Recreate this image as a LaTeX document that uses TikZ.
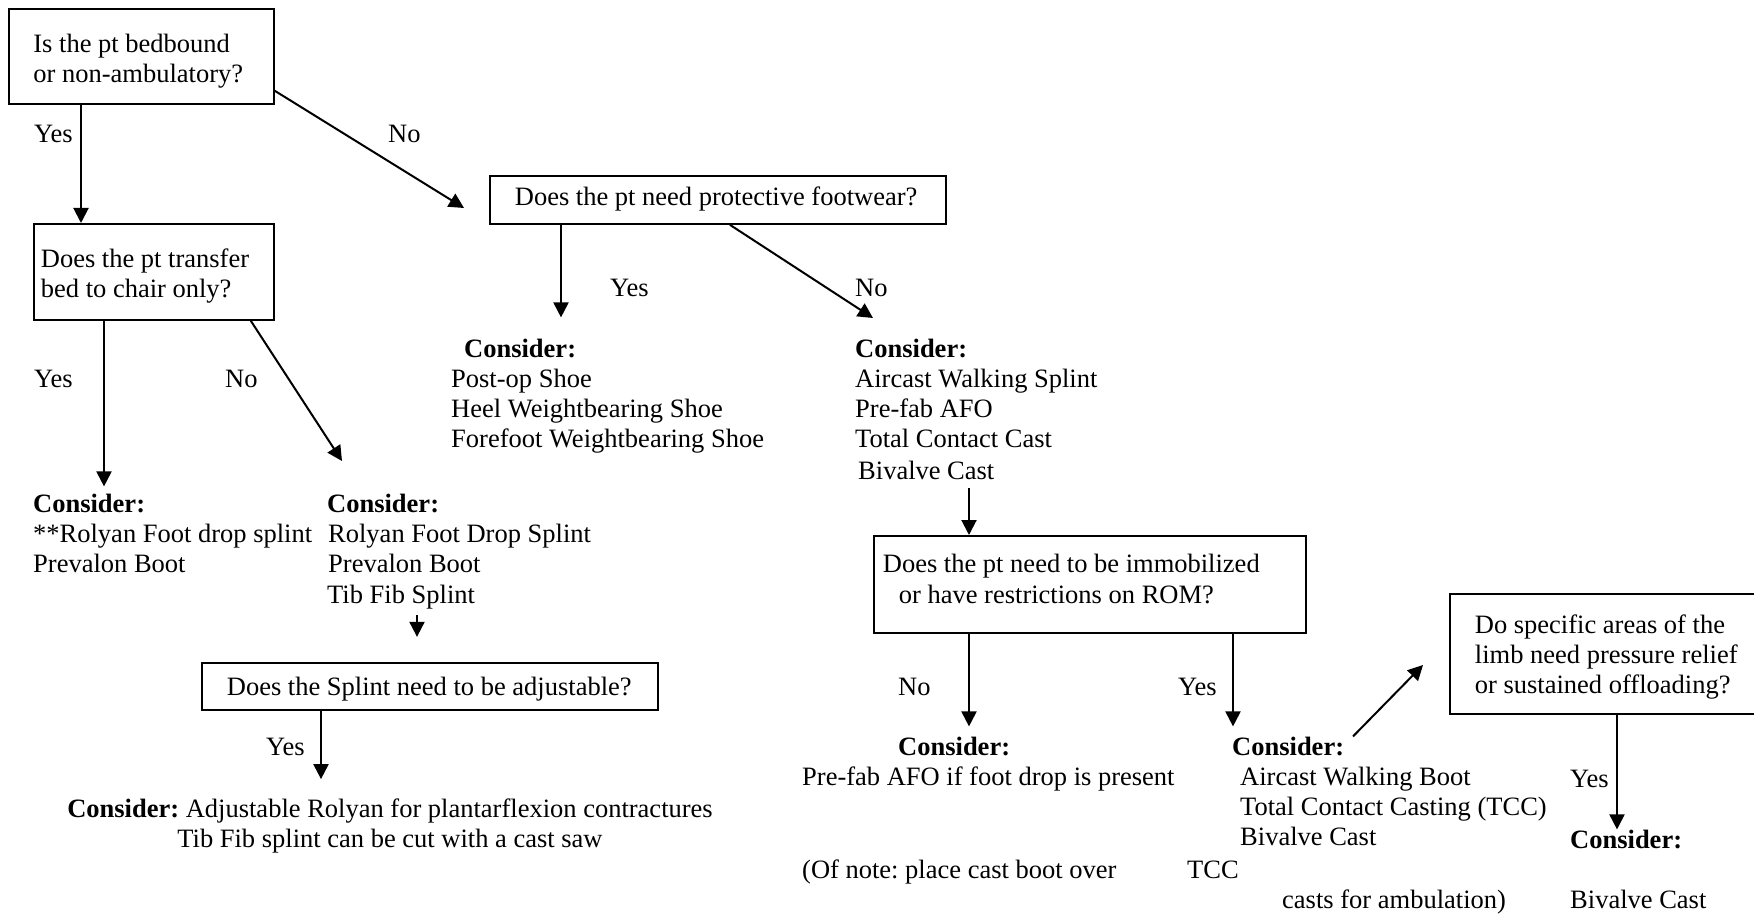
\documentclass[tikz,border=0pt]{standalone}
\usepackage{fontspec}
\setmainfont{Liberation Serif}
\usetikzlibrary{arrows.meta,calc}
\begin{document}
\begin{tikzpicture}[x=1pt,y=-1pt,
  every node/.style={font=\fontsize{26.5}{30}\selectfont\frenchspacing},
  qbox/.style={draw, line width=1.8pt, inner sep=0pt, anchor=north west, align=flush left},
  txt/.style={inner sep=0pt, anchor=base west, align=flush left},
  arr/.style={line width=2pt, -{Triangle[length=15pt,width=15pt]}}]
\useasboundingbox (0,0) rectangle (1754,917);

% question boxes
\node[qbox, text width=265pt] (q1) at (8,8)
  {\hspace*{24.5pt}\rule{0pt}{44pt}Is the pt bedbound\\\hspace*{24.5pt}or non-ambulatory?\rule[-21pt]{0pt}{21pt}};
\node[qbox, text width=240pt] (q2) at (33,223)
  {\hspace*{7pt}\rule{0pt}{44pt}Does the pt transfer\\\hspace*{7pt}bed to chair only?\rule[-22pt]{0pt}{22pt}};
\node[qbox, text width=456pt] (q3) at (489,175)
  {\hspace*{25pt}\rule{0pt}{30pt}Does the pt need protective footwear?\rule[-18pt]{0pt}{18pt}};
\node[qbox, text width=456pt] (q4) at (201,662)
  {\hspace*{25pt}\rule{0pt}{33pt}Does the Splint need to be adjustable?\rule[-14pt]{0pt}{14pt}};
\node[qbox, text width=432pt] (q5) at (873,535)
  {\hspace*{9pt}\rule{0pt}{37pt}Does the pt need to be immobilized\\[1pt]\hspace*{25pt}or have restrictions on ROM?\rule[-29pt]{0pt}{29pt}};
\node[qbox, text width=312pt] (q6) at (1449,593)
  {\hspace*{25pt}\rule{0pt}{40pt}Do specific areas of the\\\hspace*{25pt}limb need pressure relief\\\hspace*{25pt}or sustained offloading?\rule[-20pt]{0pt}{20pt}};

% labels
\node[txt] (y1) at (34,143) {Yes};
\node[txt] (n1) at (388,143) {No};
\node[txt] (y2) at (34,388) {Yes};
\node[txt] (n2) at (225,388) {No};
\node[txt] (y3) at (610,297) {Yes};
\node[txt] (n3) at (855,297) {No};
\node[txt] (y4) at (266,755) {Yes};
\node[txt] (n5) at (898,695) {No};
\node[txt] (y5) at (1178,695) {Yes};
\node[txt] (y6) at (1570,787) {Yes};

% recommendation texts
\node[txt, text width=290pt] (c1) at (33,512)
  {\textbf{Consider:}\\\relax**Rolyan Foot drop splint\\Prevalon Boot};
\node[txt, text width=280pt] (c2) at (327,512)
  {\textbf{Consider:}\\\hspace*{1pt}Rolyan Foot Drop Splint\\\hspace*{1pt}Prevalon Boot\\[1pt]Tib Fib Splint};
\node[txt, text width=330pt] (c3) at (451,358)
  {\hspace*{13pt}\textbf{Consider:}\\Post-op Shoe\\Heel Weightbearing Shoe\\Forefoot Weightbearing Shoe};
\node[txt, text width=270pt] (c4) at (855,358)
  {\textbf{Consider:}\\Aircast Walking Splint\\Pre-fab AFO\\Total Contact Cast\\[2pt]\hspace*{3pt}Bivalve Cast};
\node[txt, text width=680pt, align=flush center, anchor=base] (c5) at (390,817)
  {\textbf{Consider:} Adjustable Rolyan for plantarflexion contractures\\Tib Fib splint can be cut with a cast saw};
\node[txt, text width=400pt] (c6) at (802,755)
  {\hspace*{96pt}\textbf{Consider:}\\Pre-fab AFO if foot drop is present};
\node[txt] (c6a) at (802,878) {(Of note: place cast boot over};
\node[txt] (c6b) at (1187,878) {TCC};
\node[txt] (c6c) at (1282,908) {casts for ambulation)};
\node[txt, text width=330pt] (c7) at (1232,755)
  {\textbf{Consider:}\\\hspace*{8pt}Aircast Walking Boot\\\hspace*{8pt}Total Contact Casting (TCC)\\\hspace*{8pt}Bivalve Cast};
\node[txt, text width=170pt] (c8) at (1570,848)
  {\textbf{Consider:}\\[30pt]Bivalve Cast};

% arrow coordinates
\coordinate (xa) at (81,0);
\coordinate (xb) at (104,0);
\coordinate (xc) at (561,0);
\coordinate (xd) at (417,0);
\coordinate (xe) at (321,0);
\coordinate (xf) at (969,0);
\coordinate (xg) at (1233,0);
\coordinate (xh) at (1617,0);
\coordinate (tNo1) at (464,208);
\coordinate (tNo2) at (342,461);
\coordinate (tNo3) at (873,318);
\coordinate (tDiag) at (1423,665);

% connectors
\draw[arr] (q1.south -| xa) -- (q2.north -| xa);
\draw[arr] ($(q1.south east)+(0,-14)$) -- (tNo1);
\draw[arr] (q2.south -| xb) -- ($(c1.north -| xb)+(0,-7)$);
\draw[arr] ($(q2.south east)+(-24,0)$) -- (tNo2);
\draw[arr] (q3.south -| xc) -- ($(c3.north -| xc)+(0,-22)$);
\draw[arr] ($(q3.south)+(12,0)$) -- (tNo3);
\draw[arr, shorten <=6pt] (c2.south -| xd) -- ($(c2.south -| xd)+(0,28)$);
\draw[arr] (q4.south -| xe) -- ($(c5.north -| xe)+(0,-19)$);
\draw[arr, shorten <=8pt] (c4.south -| xf) -- (q5.north -| xf);
\draw[arr] (q5.south -| xf) -- ($(c6.north -| xf)+(0,-10)$);
\draw[arr] (q5.south -| xg) -- ($(c7.north -| xg)+(0,-10)$);
\draw[arr] ($(c7.north west)+(121,0)$) -- (tDiag);
\draw[arr] (q6.south -| xh) -- (c8.north -| xh);
\end{tikzpicture}
\end{document}
